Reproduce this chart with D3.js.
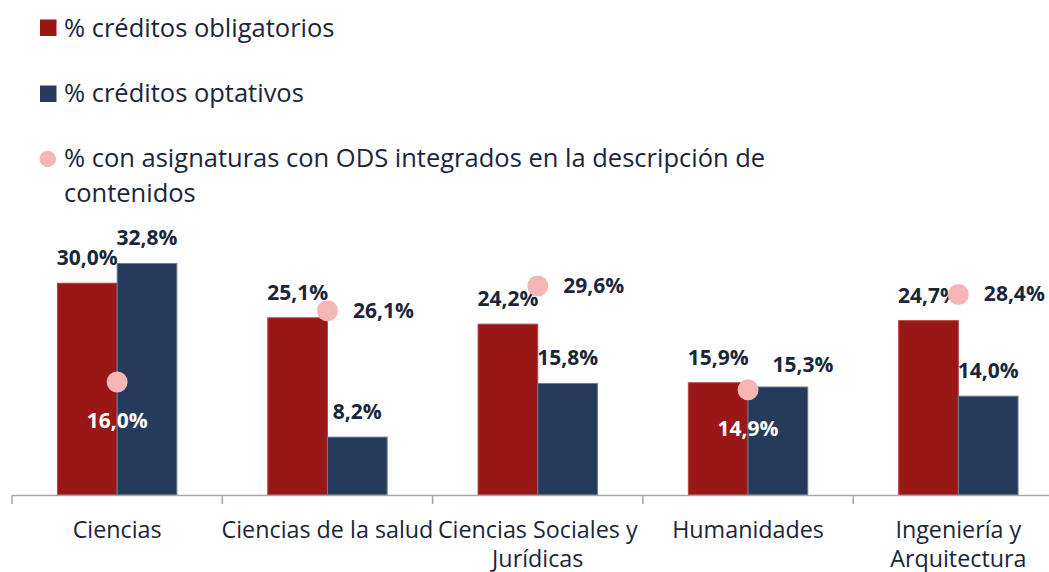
<!doctype html>
<html>
<head>
    <meta charset="utf-8">
    <script src="https://cdn.jsdelivr.net/npm/d3@7"></script>
    <style>
        html, body {
            margin: 0;
            padding: 0;
            background: #fff;
        }
        svg {
            display: block;
            font-family: "Open Sans", sans-serif;
        }
        .val {
            font-weight: bold;
            font-size: 21px;
        }
    </style>
</head>
<body>
<svg id="chart" width="1049" height="572"></svg>
<script>
    var categories = ["Ciencias", "Ciencias de la salud", "Ciencias Sociales y Jurídicas", "Humanidades", "Ingeniería y Arquitectura"];
    var obligatorios = [30.0, 25.1, 24.2, 15.9, 24.7];
    var optativos = [32.8, 8.2, 15.8, 15.3, 14.0];
    var ods = [16.0, 26.1, 29.6, 14.9, 28.4];
    var legendLabels = ["% créditos obligatorios", "% créditos optativos", "% con asignaturas con ODS integrados en la descripción de contenidos"];

    var RED = "#9a1717", BLUE = "#263a5b", PINK = "#f5b6b6", TEXT = "#1c2539";

    var svg = d3.select("#chart");

    // plot area
    var x0 = 12, bandW = 210.3, baseY = 495;
    var x = d3.scaleBand()
        .domain(categories)
        .range([x0, x0 + bandW * categories.length])
        .paddingInner(0).paddingOuter(0);
    var inner = d3.scaleBand()
        .domain(["obl", "opt"])
        .range([0, bandW])
        .paddingInner(0)
        .paddingOuter((bandW - 119.4) / 2 / (119.4 / 2));
    var y = d3.scaleLinear().domain([0, 35]).range([baseY, baseY - 35 * 7.06]);

    var rows = categories.map(function(c, i){
        return {cat: c, obl: obligatorios[i], opt: optativos[i], ods: ods[i]};
    });

    // bars
    var g = svg.selectAll(".grp").data(rows).enter().append("g")
        .attr("transform", function(d){ return "translate(" + x(d.cat) + ",0)"; });

    g.append("rect")
        .attr("x", inner("obl"))
        .attr("y", function(d){ return y(d.obl); })
        .attr("width", inner.bandwidth())
        .attr("height", function(d){ return baseY - y(d.obl); })
        .attr("fill", RED)
        .attr("stroke", "#b8474a").attr("stroke-width", 1);

    g.append("rect")
        .attr("x", inner("opt"))
        .attr("y", function(d){ return y(d.opt); })
        .attr("width", inner.bandwidth())
        .attr("height", function(d){ return baseY - y(d.opt); })
        .attr("fill", BLUE)
        .attr("stroke", "#6b7b93").attr("stroke-width", 1);

    // axis
    var axis = d3.axisBottom(x).tickSize(0).tickFormat("");
    var ax = svg.append("g").attr("transform", "translate(0," + baseY + ")").call(axis);
    ax.select(".domain").attr("stroke", "#a6a6a6").attr("stroke-width", 1.5);
    svg.append("g").selectAll("line")
        .data(d3.range(categories.length + 1))
        .enter().append("line")
        .attr("x1", function(i){ return x0 + i * bandW; })
        .attr("x2", function(i){ return x0 + i * bandW; })
        .attr("y1", baseY).attr("y2", baseY + 9)
        .attr("stroke", "#a6a6a6").attr("stroke-width", 1.5);

    // bar value labels
    function fmt(v){ return v.toFixed(1).replace(".", ",") + "%"; }

    g.append("text").attr("class", "val")
        .attr("x", inner("obl") + inner.bandwidth() / 2)
        .attr("y", function(d){ return y(d.obl) - 18; })
        .attr("text-anchor", "middle").attr("fill", TEXT)
        .text(function(d){ return fmt(d.obl); });

    g.append("text").attr("class", "val")
        .attr("x", function(d){ return inner("opt") + inner.bandwidth() / 2 + (d.cat === "Humanidades" ? 25 : 0); })
        .attr("y", function(d){ return y(d.opt) - (d.cat === "Humanidades" ? 15 : 18); })
        .attr("text-anchor", "middle").attr("fill", TEXT)
        .text(function(d){ return fmt(d.opt); });

    // ODS dots
    var cx = bandW / 2;
    g.append("circle")
        .attr("cx", cx)
        .attr("cy", function(d){ return y(d.ods); })
        .attr("r", 10.5)
        .attr("fill", PINK);

    g.append("text").attr("class", "val")
        .each(function(d){
            var below = d.ods < Math.min(d.obl, d.opt) + 2;
            var t = d3.select(this);
            if (below) {
                t.attr("x", cx).attr("y", y(d.ods) + 46).attr("fill", "#fff").attr("text-anchor", "middle");
            } else {
                t.attr("x", cx + 56).attr("y", y(d.ods) + 7).attr("fill", TEXT).attr("text-anchor", "middle");
            }
        })
        .text(function(d){ return fmt(d.ods); });

    // category labels
    var catLines = {
        "Ciencias Sociales y Jurídicas": ["Ciencias Sociales y", "Jurídicas"],
        "Ingeniería y Arquitectura": ["Ingeniería y", "Arquitectura"]
    };
    g.append("text")
        .attr("text-anchor", "middle")
        .attr("fill", TEXT)
        .style("font-size", "23.3px")
        .each(function(d){
            var lines = catLines[d.cat] || [d.cat];
            var t = d3.select(this);
            lines.forEach(function(l, i){
                t.append("tspan").attr("x", cx).attr("y", 538 + i * 29).text(l);
            });
        });

    // legend
    var leg = svg.append("g").style("font-size", "25.5px").attr("fill", TEXT);
    leg.append("rect").attr("x", 40).attr("y", 19.5).attr("width", 16.5).attr("height", 16.5).attr("fill", RED);
    leg.append("text").attr("x", 64).attr("y", 36.5).text(legendLabels[0]);
    leg.append("rect").attr("x", 40).attr("y", 85.5).attr("width", 16.5).attr("height", 16.5).attr("fill", BLUE);
    leg.append("text").attr("x", 64).attr("y", 102).text(legendLabels[1]);
    leg.append("circle").attr("cx", 47.7).attr("cy", 159).attr("r", 8.3).attr("fill", PINK);
    var t3 = leg.append("text");
    t3.append("tspan").attr("x", 64).attr("y", 167).text("% con asignaturas con ODS integrados en la descripción de");
    t3.append("tspan").attr("x", 64).attr("y", 202).text("contenidos");
</script>
</body>
</html>
